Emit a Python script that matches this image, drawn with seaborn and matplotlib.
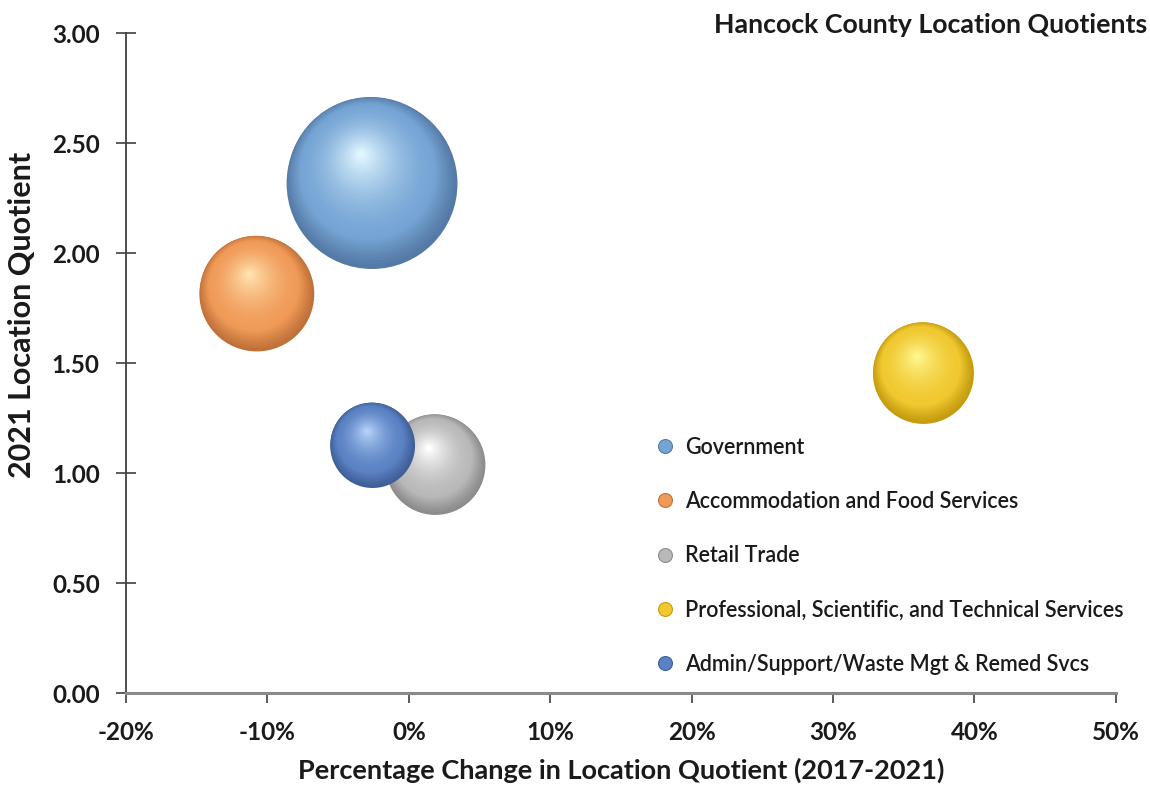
import numpy as np
import pandas as pd
import matplotlib
matplotlib.use("Agg")
import matplotlib.pyplot as plt
import seaborn as sns
from matplotlib.transforms import ScaledTranslation
from matplotlib.colors import to_rgb
from matplotlib.ticker import PercentFormatter, MultipleLocator, FormatStrFormatter
from matplotlib.lines import Line2D

# data
industries = [
    "Government",
    "Accommodation and Food Services",
    "Retail Trade",
    "Professional, Scientific, and Technical Services",
    "Admin/Support/Waste Mgt & Remed Svcs",
]
pct_change = [-2.6, -10.75, 1.88, 36.4, -2.56]      # % change in LQ 2017-2021
lq_2021 = [2.317, 1.815, 1.038, 1.454, 1.126]       # 2021 location quotient
bubble_area = [7300, 3300, 2500, 2550, 1800]        # relative bubble size

# (edge, base, highlight) for the shaded spheres
palette = [
    ("#557aa6", "#76a5d5", "#e0f6ff"),
    ("#c0713a", "#f09a58", "#ffe2ae"),
    ("#8c8c8c", "#b9b9b9", "#ffffff"),
    ("#c49c0e", "#f0c830", "#fff68e"),
    ("#405f98", "#5b82c4", "#b4d2f8"),
]

df = pd.DataFrame({"industry": industries, "pct": pct_change, "lq": lq_2021,
                   "area": bubble_area})

sns.set_theme(style="white")
plt.rcParams["font.family"] = ["Lato", "DejaVu Sans"]
plt.rcParams["axes.unicode_minus"] = False

fig = plt.figure(figsize=(11.5, 7.89), dpi=100)
ax = fig.add_axes([0.1096, 0.1213, 0.8606, 0.8365])


def mix(a, b, t):
    a, b = np.array(to_rgb(a)), np.array(to_rgb(b))
    return tuple(a + (b - a) * t)


N = 45
for i, row in df.iterrows():
    edge, base, hi = palette[i]
    r_pt = np.sqrt(row["area"] * 2.0736) / 2
    for k in range(N):
        t = k / (N - 1)
        f = 1 - 0.96 * t
        if t < 0.22:
            c = mix(edge, base, t / 0.22)
        else:
            c = mix(base, hi, ((t - 0.22) / 0.78) ** 1.6)
        g = t ** 0.6
        dx = -0.13 * g * r_pt
        dy = 0.34 * g * r_pt
        tr = ax.transData + ScaledTranslation(dx / 72, dy / 72, fig.dpi_scale_trans)
        sns.scatterplot(data=df.iloc[[i]], x="pct", y="lq", s=(2 * r_pt * f) ** 2,
                        color=c, edgecolor="none", linewidth=0, transform=tr,
                        ax=ax, legend=False, zorder=2 + i)

ax.set_xlim(-20, 50)
ax.set_ylim(0, 3)
ax.xaxis.set_major_locator(MultipleLocator(10))
ax.yaxis.set_major_locator(MultipleLocator(0.5))
ax.xaxis.set_major_formatter(PercentFormatter(decimals=0))
ax.yaxis.set_major_formatter(FormatStrFormatter("%.2f"))

for s in ["top", "right"]:
    ax.spines[s].set_visible(False)
ax.spines["left"].set_color("#404040")
ax.spines["left"].set_linewidth(1.3)
ax.spines["bottom"].set_color("#8a8a8a")
ax.spines["bottom"].set_linewidth(2.2)

ax.tick_params(axis="y", direction="inout", length=14, width=1.2, color="#404040",
               pad=12, labelsize=17.5, labelcolor="#1a1a1a", left=True)
ax.tick_params(axis="x", direction="out", length=7, width=1.2, color="#404040",
               pad=13, labelsize=17.5, labelcolor="#1a1a1a", bottom=True)
for lab in ax.get_xticklabels() + ax.get_yticklabels():
    lab.set_fontweight("bold")

ax.set_xlabel("Percentage Change in Location Quotient (2017-2021)", fontsize=19.5,
              fontweight="bold", color="#1a1a1a", labelpad=10)
ax.set_ylabel("2021 Location Quotient", fontsize=22, fontweight="bold",
              color="#1a1a1a")
ax.yaxis.set_label_coords(-0.091, 0.573)

fig.text(0.998, 0.968, "Hancock County Location Quotients", ha="right", va="center",
         fontsize=19.3, fontweight="bold", color="#1a1a1a")

handles = [Line2D([], [], marker="o", ls="none", markersize=10,
                  markerfacecolor=p[1], markeredgecolor=p[0], markeredgewidth=0.8)
           for p in palette]
ax.legend(handles, industries, loc="upper left", bbox_to_anchor=(0.536, 0.389),
          frameon=False, borderpad=0, borderaxespad=0, handlelength=0.8,
          handletextpad=0.53, labelspacing=1.55,
          prop={"size": 15.5, "weight": "semibold"}, labelcolor="#1a1a1a")

fig.savefig("out.png", dpi=100)
